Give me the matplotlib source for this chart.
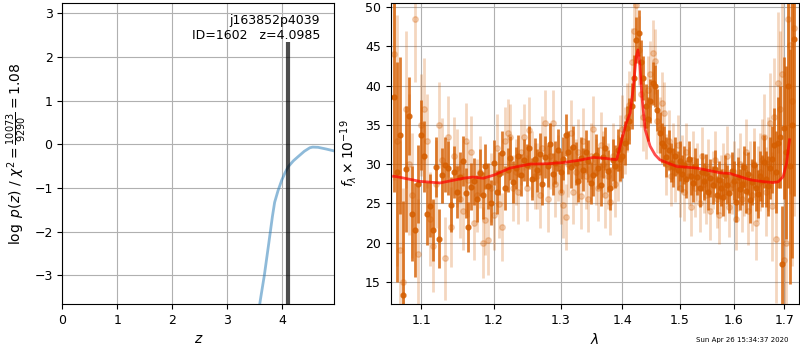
import matplotlib
matplotlib.use("Agg")
import matplotlib.pyplot as plt
from matplotlib.ticker import FixedLocator, FixedFormatter, NullLocator

# ---------------- redshift probability ----------------
z_grid = [3.50, 3.55, 3.60, 3.673, 3.75, 3.82, 3.86, 3.92, 3.99, 4.05, 4.11,
          4.20, 4.29, 4.40, 4.50, 4.55, 4.65, 4.80, 4.95]
logpz = [-4.50, -4.00, -3.57, -3.00, -2.30, -1.65, -1.33, -1.07, -0.82, -0.65,
         -0.51, -0.38, -0.28, -0.16, -0.08, -0.065, -0.07, -0.11, -0.155]
z_best = 4.0985
z_best_top = 2.35
chi2_num, chi2_den, chi2_red = 10073, 9290, 1.08
obj_root, obj_id = "j163852p4039", 1602

# ---------------- spectrum ----------------
wave = [1.064, 1.068, 1.072, 1.076, 1.080, 1.084, 1.088, 1.092, 1.096, 1.100,
        1.104, 1.108, 1.112, 1.116, 1.120, 1.124, 1.128, 1.132, 1.136, 1.140,
        1.144, 1.148, 1.152, 1.156, 1.160, 1.164, 1.168, 1.172, 1.176, 1.180,
        1.184, 1.188, 1.192, 1.196, 1.200, 1.204, 1.208, 1.212, 1.216, 1.220,
        1.224, 1.228, 1.232, 1.236, 1.240, 1.244, 1.248, 1.252, 1.256, 1.260,
        1.264, 1.268, 1.272, 1.276, 1.280, 1.284, 1.288, 1.292, 1.296, 1.300,
        1.304, 1.308, 1.312, 1.316, 1.320, 1.324, 1.328, 1.332, 1.336, 1.340,
        1.344, 1.348, 1.352, 1.356, 1.360, 1.364, 1.368, 1.372, 1.376, 1.380,
        1.384, 1.388, 1.392, 1.396, 1.400, 1.404, 1.408, 1.412, 1.416, 1.420,
        1.424, 1.428, 1.432, 1.436, 1.440, 1.444, 1.448, 1.452, 1.456, 1.460,
        1.464, 1.468, 1.472, 1.476, 1.480, 1.484, 1.488, 1.492, 1.496, 1.500,
        1.504, 1.508, 1.512, 1.516, 1.520, 1.524, 1.528, 1.532, 1.536, 1.540,
        1.544, 1.548, 1.552, 1.556, 1.560, 1.564, 1.568, 1.572, 1.576, 1.580,
        1.584, 1.588, 1.592, 1.596, 1.600, 1.604, 1.608, 1.612, 1.616, 1.620,
        1.624, 1.628, 1.632, 1.636, 1.640, 1.644, 1.648, 1.652, 1.656, 1.660,
        1.664, 1.668, 1.672, 1.676, 1.680, 1.684, 1.688, 1.692, 1.696, 1.700,
        1.704, 1.708, 1.712, 1.716, 1.720]

flux_bin = [38.5, 29.0, 33.7, 13.3, 29.4, 36.1, 23.7, 21.6, 27.5, 33.7,
            31.0, 23.7, 24.7, 21.6, 29.6, 20.5, 28.6, 29.9, 29.5, 24.8,
            29.0, 26.4, 28.4, 30.4, 26.3, 22.0, 27.1, 27.8, 25.6, 28.9,
            26.0, 29.7, 27.2, 25.1, 30.2, 26.5, 28.8, 31.4, 27.0, 29.3,
            30.8, 27.7, 29.5, 31.0, 28.6, 30.5, 29.9, 32.1, 28.1, 30.6,
            29.2, 31.3, 27.5, 30.9, 29.8, 32.6, 28.7, 30.2, 31.8, 29.0,
            30.7, 33.7, 31.5, 29.6, 32.2, 30.1, 27.9, 30.8, 29.3, 31.6,
            30.4, 27.6, 28.6, 31.2, 29.5, 27.4, 30.9, 32.0, 29.1, 26.9,
            30.5, 29.7, 31.8, 30.6, 31.0, 32.7, 34.6, 35.5, 37.4, 41.0,
            45.8, 46.7, 43.0, 41.0, 37.4, 35.7, 38.0, 40.3, 40.0, 36.9,
            34.0, 32.7, 32.3, 30.9, 31.8, 30.2, 29.6, 31.0, 29.2, 30.4,
            28.8, 29.9, 28.1, 30.6, 28.5, 27.6, 29.7, 28.4, 26.9, 29.0,
            27.8, 28.9, 26.5, 28.2, 27.3, 29.4, 26.1, 28.0, 27.0, 25.8,
            28.6, 27.4, 26.3, 29.1, 27.9, 25.2, 28.3, 26.8, 27.5, 29.6,
            26.6, 28.8, 25.4, 27.7, 29.9, 27.0, 26.2, 28.5, 27.8, 30.3,
            28.1, 27.2, 29.5, 30.6, 32.4, 29.0, 32.7, 33.5, 17.2, 34.6,
            31.5, 40.0, 29.7, 35.0, 45.9]
err_bin = [12.0, 14.0, 10.0, 12.0, 8.0, 5.0, 6.0, 6.0, 5.0, 4.5,
           4.5, 4.0, 4.0, 4.0, 3.8, 3.8, 3.5, 3.5, 3.5, 3.5,
           3.3, 3.3, 3.2, 3.2, 3.2, 3.2, 3.0, 3.0, 3.0, 3.0,
           3.0, 2.9, 2.9, 2.9, 2.9, 2.8, 2.8, 2.8, 2.8, 2.8,
           2.8, 2.7, 2.7, 2.7, 2.7, 2.7, 2.7, 2.7, 2.7, 2.7,
           2.7, 2.7, 2.7, 2.7, 2.7, 2.7, 2.7, 2.7, 2.7, 2.7,
           2.7, 2.7, 2.7, 2.7, 2.7, 2.7, 2.7, 2.7, 2.7, 2.7,
           2.7, 2.7, 2.7, 2.7, 2.7, 2.7, 2.7, 2.7, 2.7, 2.7,
           2.7, 2.7, 2.7, 2.8, 2.8, 2.8, 2.8, 2.9, 2.9, 2.9,
           2.9, 2.9, 2.8, 2.8, 2.8, 2.8, 2.8, 2.7, 2.7, 2.7,
           2.6, 2.6, 2.6, 2.6, 2.5, 2.5, 2.5, 2.5, 2.5, 2.5,
           2.4, 2.4, 2.4, 2.4, 2.4, 2.4, 2.4, 2.4, 2.4, 2.4,
           2.4, 2.4, 2.4, 2.4, 2.4, 2.4, 2.4, 2.4, 2.4, 2.4,
           2.5, 2.5, 2.5, 2.5, 2.5, 2.6, 2.6, 2.6, 2.7, 2.7,
           2.8, 2.8, 2.9, 2.9, 3.0, 3.0, 3.1, 3.2, 3.3, 3.4,
           3.6, 3.8, 4.0, 4.3, 4.7, 5.2, 5.8, 6.5, 7.5, 9.0,
           11.0, 13.0, 15.0, 17.0, 20.0]

flux_raw = [44.0, 33.0, 19.0, 15.0, 37.0, 30.0, 26.0, 48.5, 18.5, 35.0,
            37.0, 33.0, 23.0, 19.5, 27.5, 35.0, 30.5, 18.0, 33.5, 22.0,
            31.0, 29.5, 25.5, 24.0, 33.0, 28.0, 31.5, 22.5, 26.0, 29.0,
            20.0, 22.9, 20.3, 27.0, 23.5, 32.0, 24.9, 22.0, 33.0, 34.0,
            33.5, 27.0, 29.0, 26.5, 31.5, 33.5, 27.0, 34.4, 30.0, 28.5,
            28.5, 26.0, 32.0, 35.2, 25.5, 31.0, 35.3, 27.5, 29.5, 26.5,
            24.8, 23.3, 30.0, 34.0, 26.5, 29.0, 31.5, 25.9, 33.0, 28.5,
            25.5, 31.0, 34.5, 29.0, 27.0, 32.5, 30.0, 26.0, 28.5, 25.2,
            31.0, 27.5, 29.5, 32.0, 34.5, 33.0, 36.0, 37.5, 43.0, 47.0,
            50.3, 44.5, 39.0, 36.0, 35.0, 39.5, 41.5, 44.2, 43.1, 35.5,
            34.5, 37.8, 36.5, 30.0, 33.0, 28.5, 31.5, 29.0, 32.5, 27.0,
            30.0, 26.5, 31.5, 28.5, 24.5, 30.5, 27.0, 29.0, 25.0, 31.0,
            27.5, 26.0, 29.5, 24.0, 28.0, 30.5, 25.5, 23.5, 27.5, 29.0,
            26.5, 31.0, 24.5, 27.5, 29.0, 23.0, 28.0, 30.0, 25.5, 27.5,
            31.5, 24.0, 28.5, 26.0, 30.0, 22.5, 27.5, 29.0, 30.5, 33.5,
            26.5, 30.0, 35.2, 24.6, 36.0, 20.5, 40.4, 37.0, 41.5, 17.8,
            20.0, 48.5, 45.2, 38.0, 47.4]
err_raw = [16.0, 16.0, 14.0, 12.0, 10.0, 9.0, 8.0, 8.0, 7.0, 6.5,
           6.5, 6.0, 6.0, 5.8, 5.6, 5.5, 5.4, 5.3, 5.2, 5.1,
           5.0, 5.0, 4.9, 4.9, 4.8, 4.8, 4.7, 4.7, 4.6, 4.6,
           4.5, 4.5, 4.5, 4.4, 4.4, 4.4, 4.3, 4.3, 4.3, 4.3,
           4.2, 4.2, 4.2, 4.2, 4.2, 4.2, 4.2, 4.2, 4.2, 4.2,
           4.2, 4.2, 4.2, 4.2, 4.2, 4.2, 4.2, 4.2, 4.2, 4.2,
           4.2, 4.2, 4.2, 4.2, 4.2, 4.2, 4.2, 4.2, 4.2, 4.2,
           4.2, 4.2, 4.2, 4.2, 4.2, 4.2, 4.2, 4.2, 4.2, 4.2,
           4.2, 4.2, 4.2, 4.3, 4.3, 4.3, 4.4, 4.4, 4.4, 4.4,
           4.4, 4.4, 4.3, 4.3, 4.3, 4.3, 4.2, 4.2, 4.1, 4.1,
           4.0, 4.0, 4.0, 3.9, 3.9, 3.9, 3.8, 3.8, 3.8, 3.8,
           3.7, 3.7, 3.7, 3.7, 3.7, 3.7, 3.7, 3.7, 3.7, 3.7,
           3.7, 3.7, 3.7, 3.7, 3.7, 3.7, 3.7, 3.7, 3.7, 3.7,
           3.8, 3.8, 3.8, 3.8, 3.9, 3.9, 4.0, 4.0, 4.1, 4.1,
           4.2, 4.3, 4.4, 4.5, 4.6, 4.7, 4.8, 5.0, 5.2, 5.4,
           5.7, 6.0, 6.4, 6.9, 7.5, 8.2, 9.0, 10.0, 11.5, 13.0,
           15.0, 17.0, 19.0, 21.0, 24.0]

model_wave = [1.064, 1.068, 1.098, 1.125, 1.157, 1.170, 1.185, 1.200, 1.2236,
              1.2533, 1.280, 1.304, 1.330, 1.352, 1.370, 1.385, 1.3907, 1.399,
              1.4064, 1.4131, 1.4188, 1.4233, 1.4265, 1.4300, 1.4333, 1.4389,
              1.4474, 1.4560, 1.4644, 1.4800, 1.4945, 1.5308, 1.5739, 1.593,
              1.632, 1.660, 1.678, 1.688, 1.698, 1.705, 1.711]
model_flux = [28.45, 28.4, 27.8, 27.6, 28.2, 28.35, 28.2, 28.6, 29.5,
              30.0, 30.05, 30.2, 30.5, 30.85, 30.75, 30.6, 30.6, 33.1,
              35.2, 36.5, 39.9, 43.6, 44.55, 42.5, 38.6, 34.4,
              32.3, 31.2, 30.55, 30.1, 29.7, 29.5, 28.9, 28.8,
              28.0, 27.75, 27.65, 27.75, 28.4, 30.1, 33.1]

wave_ticks = [1.1, 1.2, 1.3, 1.4, 1.5, 1.6, 1.7]
timestamp = "Sun Apr 26 15:34:37 2020"

grism_color = (0.8352941176470589, 0.3686274509803922, 0.0)

plt.rcParams['font.family'] = ['DejaVu Sans']
plt.rcParams['font.size'] = 9

fig = plt.figure(figsize=(8, 3.5), dpi=100)

# p(z) panel
ax1 = fig.add_axes([0.0779, 0.1314, 0.34, 0.8592])
ax1.plot(z_grid, logpz, color='#1f77b4', alpha=0.5, lw=2)
ax1.set_xlim(0, 4.945)
ax1.set_ylim(-3.66, 3.23)
ax1.vlines(z_best, -3.66, z_best_top, color='k', alpha=0.7, lw=3)
ax1.grid(True, color='#b0b0b0', lw=0.8)
ax1.set_axisbelow(True)
ax1.set_xticks([0, 1, 2, 3, 4])
ax1.set_xlabel(r'$z$', fontsize=10)
ax1.set_ylabel(r'$\log\ p(z)$' + ' / ' +
               r'$\chi^2=\frac{%d}{%d}=%.2f$' % (chi2_num, chi2_den, chi2_red),
               fontsize=10)
ax1.text(0.948, 0.965, '%s\nID=%d   z=%.4f' % (obj_root, obj_id, z_best),
         transform=ax1.transAxes, ha='right', va='top', fontsize=9)

# spectrum panel
ax2 = fig.add_axes([0.4884, 0.1314, 0.5098, 0.8592])
ax2.errorbar(wave, flux_raw, err_raw, color=grism_color, alpha=0.25,
             marker='o', ms=4, linestyle='None', elinewidth=2, capsize=0)
ax2.errorbar(wave, flux_bin, err_bin, color=grism_color, alpha=0.8,
             marker='o', ms=3.5, linestyle='None', elinewidth=2, capsize=0)
ax2.plot(model_wave, model_flux, color='r', alpha=0.7, lw=2, zorder=10)
ax2.set_xscale('log')
ax2.set_xlim(1.0603, 1.7297)
ax2.set_ylim(12.16, 50.51)
ax2.xaxis.set_major_locator(FixedLocator(wave_ticks))
ax2.xaxis.set_major_formatter(FixedFormatter(['%.1f' % w for w in wave_ticks]))
ax2.xaxis.set_minor_locator(NullLocator())
ax2.grid(True, color='#b0b0b0', lw=0.8)
ax2.set_axisbelow(True)
ax2.set_xlabel(r'$\lambda$', fontsize=10)
ax2.set_ylabel(r'$f_\lambda\times10^{-19}$', fontsize=10)

fig.text(0.985, 0.02, timestamp, ha='right', va='bottom', fontsize=5)

fig.savefig('out.png', dpi=100)
